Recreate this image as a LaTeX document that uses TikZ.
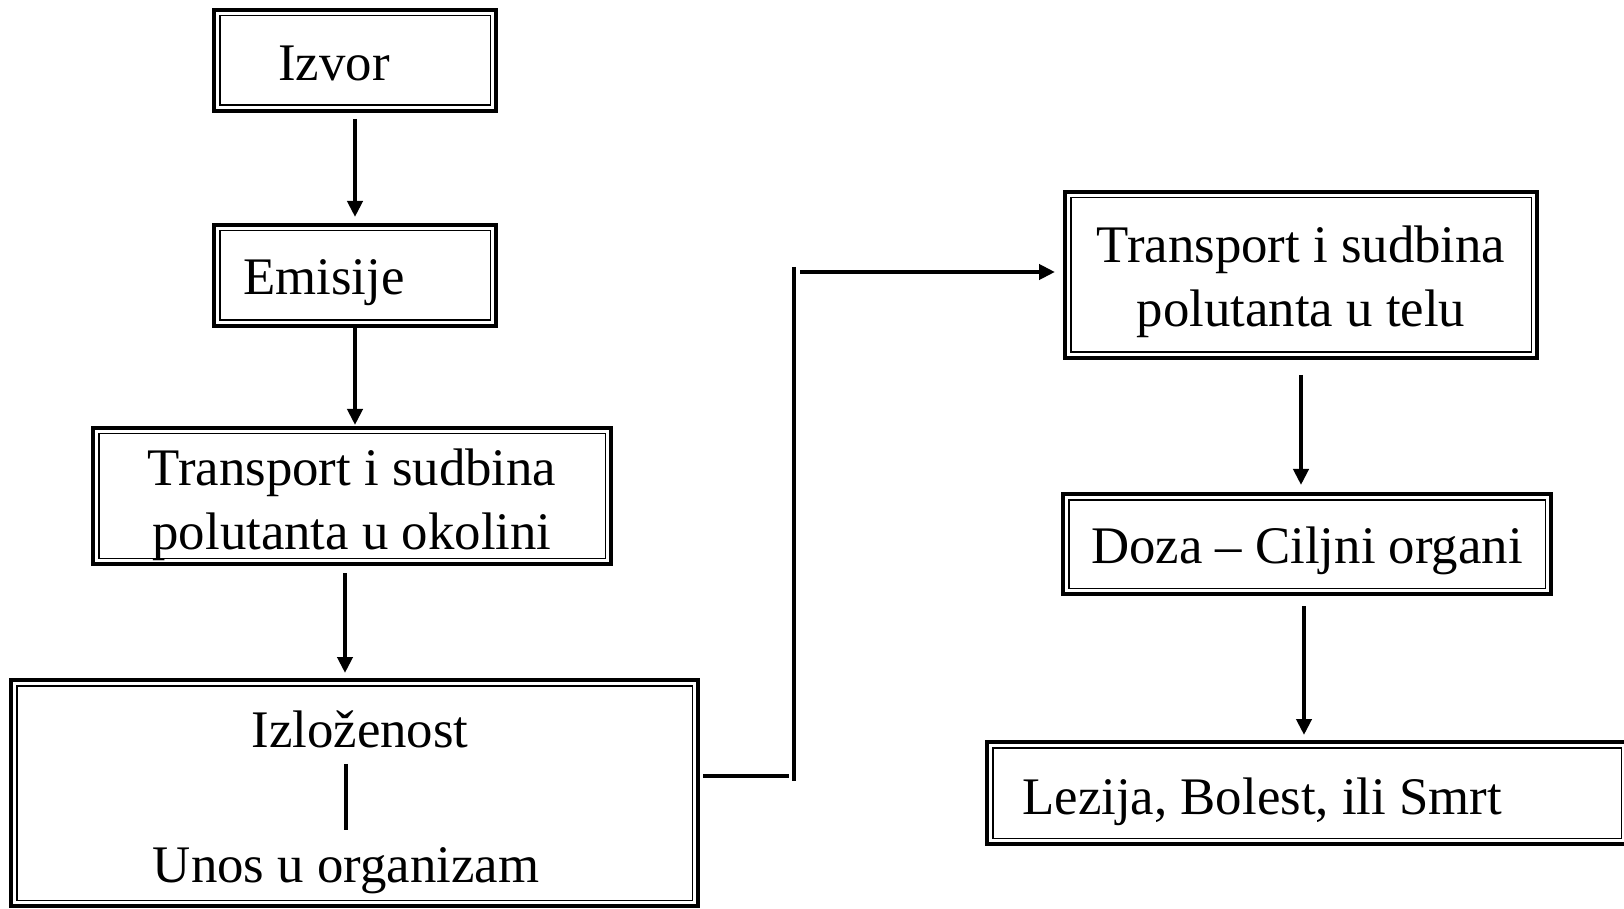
\documentclass[tikz,border=0pt]{standalone}
\usepackage{fontspec}
\setmainfont{Liberation Serif}
\usetikzlibrary{arrows.meta}

\begin{document}
\begin{tikzpicture}[x=0.5pt,y=-0.5pt,
  txt/.style={inner sep=0pt,align=center,font=\fontsize{26.4}{32}\selectfont},
  box/.style={draw,line width=1.6pt,outer sep=0pt,inner sep=0pt},
  flow/.style={line width=2.3pt,-{Triangle[length=8pt,width=7.5pt]}},
  bar/.style={line width=2.4pt}]

\useasboundingbox (0,0) rectangle (1624,909) ;

\node [box,minimum width=141pt,minimum height=50.5pt] (izvor) at (355,60.5) {} ;
\node [box,minimum width=141pt,minimum height=50.5pt] (emisije) at (355,275.5) {} ;
\node [box,minimum width=259pt,minimum height=68pt] (okolina) at (352,496) {} ;
\node [box,minimum width=343.5pt,minimum height=113pt] (izlozenost) at (354.5,793) {} ;
\node [box,minimum width=236pt,minimum height=83pt] (telu) at (1301,275) {} ;
\node [box,minimum width=244pt,minimum height=50pt] (doza) at (1307,544) {} ;
\node [box,minimum width=320pt,minimum height=51pt] (lezija) at (1307,793) {} ;

\foreach \n in {izvor,emisije,okolina,izlozenost,telu,doza,lezija}
  \draw [line width=0.9pt] ([shift={(2.8pt,2.8pt)}]\n.south west) rectangle ([shift={(-2.8pt,-2.8pt)}]\n.north east) ;

\node [txt,anchor=west] (izvor-t) at ([xshift=32pt,yshift=-1.5pt]izvor.west) {Izvor} ;
\node [txt,anchor=west] (emisije-t) at ([xshift=14.5pt,yshift=-3.6pt]emisije.west) {Emisije} ;
\node [txt] (okolina-t) at ([yshift=-4.4pt]okolina.center) {Transport i sudbina\\polutanta u okolini} ;
\node [txt,anchor=base] (izl-a) at (360,747) {Izloženost} ;
\node [txt,anchor=base] (izl-b) at (346,882) {Unos u organizam} ;
\node [txt] (telu-t) at ([yshift=-3.4pt]telu.center) {Transport i sudbina\\polutanta u telu} ;
\node [txt] (doza-t) at ([yshift=-3.6pt]doza.center) {Doza -- Ciljni organi} ;
\node [txt,anchor=west] (lezija-t) at ([xshift=17.5pt,yshift=-4.6pt]lezija.west) {Lezija, Bolest, ili Smrt} ;

\draw [flow,shorten <=4pt,shorten >=4pt] (izvor) -- (emisije) ;
\draw [flow,shorten <=1pt,shorten >=1.5pt] (emisije.south) -- (emisije.south |- okolina.north) ;
\draw [flow,shorten <=4.5pt,shorten >=3.5pt] ([xshift=-3.5pt]okolina.south) -- ([xshift=-3.5pt]okolina.south |- izlozenost.north) ;
\draw [line width=2pt,shorten <=8pt,shorten >=8.5pt] (izl-b.north |- izl-a.south) -- (izl-b.north) ;

\coordinate (k1) at (794,267) ;
\coordinate (k2) at (794,781) ;
\coordinate (k3) at (794,272) ;
\draw [bar,shorten <=2.5pt,shorten >=2.5pt] ([yshift=8.5pt]izlozenost.east) -- ([yshift=8.5pt]izlozenost.east -| k1) ;
\draw [bar] (k1) -- (k2) ;
\draw [flow,shorten <=3pt,shorten >=5pt] (k3) -- (k3 -| telu.west) ;

\draw [flow,shorten <=8.5pt,shorten >=4.5pt] (telu.south) -- (telu.south |- doza.north) ;
\draw [flow,shorten <=6pt,shorten >=3.5pt] ([xshift=-1.5pt]doza.south) -- ([xshift=-1.5pt]doza.south |- lezija.north) ;

\end{tikzpicture}
\end{document}
